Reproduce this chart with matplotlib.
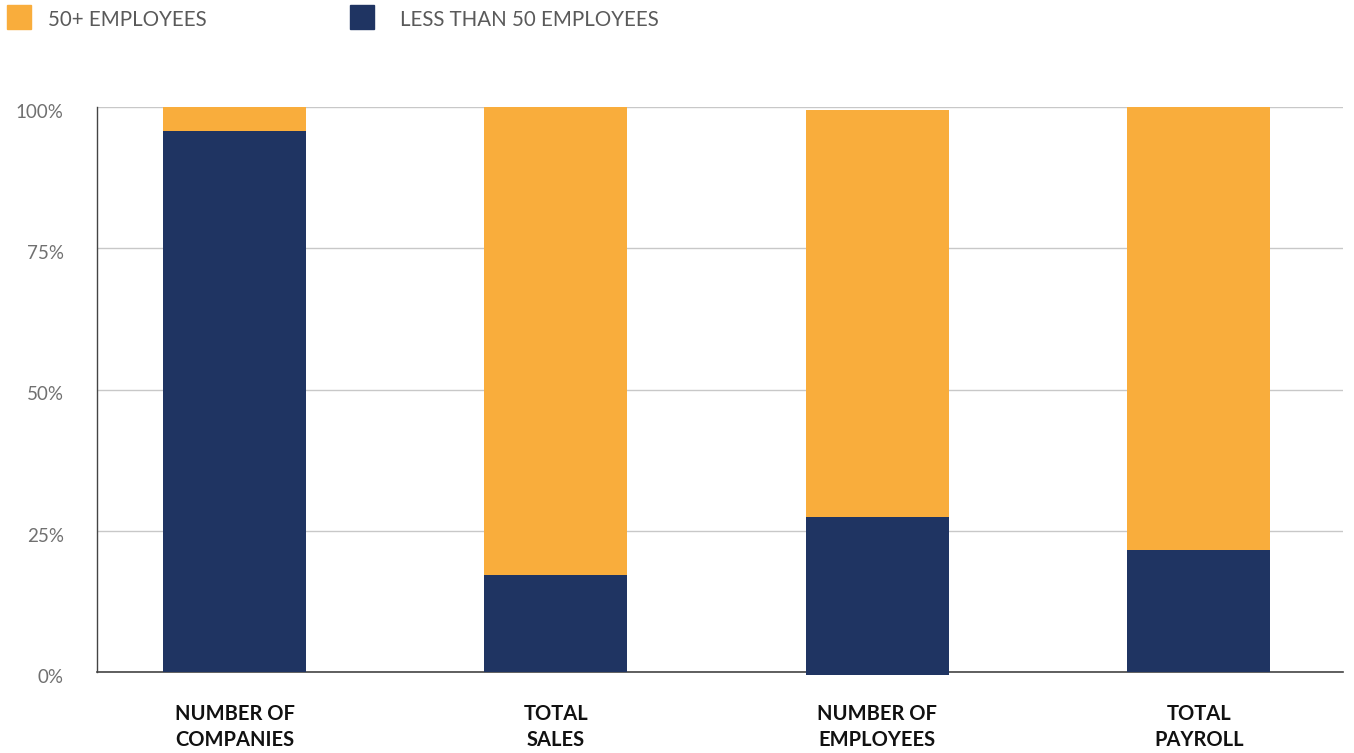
import matplotlib.pyplot as plt
from matplotlib.patches import Rectangle
from matplotlib.transforms import ScaledTranslation

categories = ['NUMBER OF\nCOMPANIES', 'TOTAL\nSALES', 'NUMBER OF\nEMPLOYEES', 'TOTAL\nPAYROLL']
small_share = [95.8, 17.2, 27.9, 21.6]    # less than 50 employees
large_share = [4.2, 82.8, 72.1, 78.4]     # 50+ employees
base = [0, 0, -0.5, 0]
yticks = [0, 25, 50, 75, 100]
ytick_labels = ['0%', '25%', '50%', '75%', '100%']

orange = '#f9ad3c'
navy = '#1f3462'

plt.rcParams['font.family'] = ['Lato', 'DejaVu Sans']

fig = plt.figure(figsize=(13.54, 7.53), dpi=100)
ax = fig.add_axes([97/1354, 1-672/753, (1343-97)/1354, (672-107)/753])

x = list(range(len(categories)))
ax.bar(x, small_share, width=0.445, bottom=base, color=navy, zorder=3, clip_on=False)
tops = [b + s for b, s in zip(base, small_share)]
ax.bar(x, large_share, width=0.445, bottom=tops, color=orange, zorder=3)

ax.set_xlim(-0.428, 3.449)
ax.set_ylim(0, 100)
ax.set_yticks(yticks)
ax.set_yticklabels(ytick_labels, color='#707070', fontsize=13.5)
ax.set_xticks(x)
ax.set_xticklabels(categories, fontsize=14.5, fontweight='bold', color='#111111', linespacing=1.4)
ax.tick_params(axis='y', length=0, pad=24)
ax.tick_params(axis='x', length=0, pad=23)
shift = ScaledTranslation(0, -4/100, fig.dpi_scale_trans)
for lbl in ax.get_yticklabels():
    lbl.set_transform(lbl.get_transform() + shift)

ax.yaxis.grid(True, color='#c8c8c8', linewidth=1, zorder=0)
ax.set_axisbelow(True)
for s in ['top', 'right']:
    ax.spines[s].set_visible(False)
ax.spines['left'].set_color('#444444')
ax.spines['bottom'].set_color('#444444')
ax.spines['left'].set_linewidth(1)
ax.spines['bottom'].set_linewidth(1.2)
ax.spines['bottom'].set_zorder(2)

# legend at top
fig.patches.append(Rectangle((7/1354, 1-29/753), 24/1354, 24/753, transform=fig.transFigure, color=orange))
fig.text(48/1354, 1-20/753, '50+ EMPLOYEES', fontsize=14.8, color='#5a5a5a', va='center')
fig.patches.append(Rectangle((350/1354, 1-29/753), 24/1354, 24/753, transform=fig.transFigure, color=navy))
fig.text(400/1354, 1-20/753, 'LESS THAN 50 EMPLOYEES', fontsize=14.8, color='#5a5a5a', va='center')

fig.savefig('out.png', dpi=100)
